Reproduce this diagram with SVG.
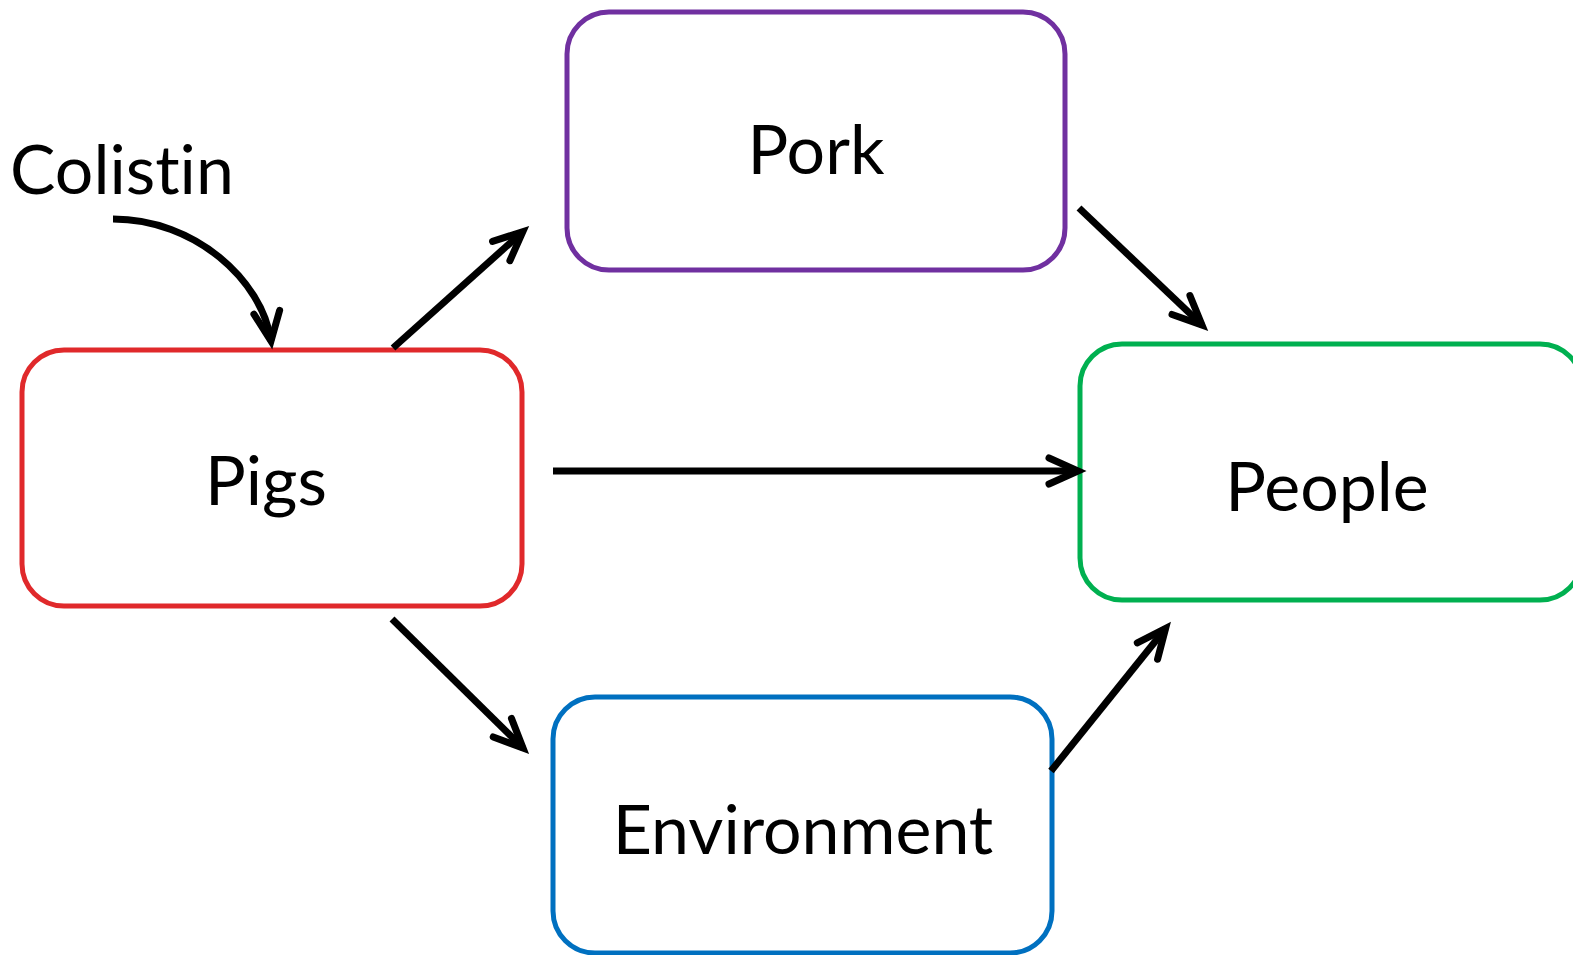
<svg xmlns="http://www.w3.org/2000/svg" width="1573" height="955" viewBox="0 0 1573 955">
<style>
.box{fill:#fff;stroke-width:5}
.lbl{font-family:Lato,"Open Sans","Liberation Sans",sans-serif;font-size:68px;fill:#000;text-anchor:middle;font-variant-ligatures:none;font-feature-settings:"liga" 0}
.con{fill:none;stroke:#000;stroke-width:7;stroke-linecap:butt;marker-end:url(#ah)}
</style>
<defs>
<marker id="ah" markerUnits="userSpaceOnUse" markerWidth="60" markerHeight="60" viewBox="-40 -30 60 60" refX="0" refY="0" orient="auto" overflow="visible">
<path d="M-29,-13 L0,0 L-29,13" fill="none" stroke="#000" stroke-width="7" stroke-linecap="round" stroke-linejoin="miter"/>
</marker>
</defs>
<rect width="1573" height="955" fill="#fff"/>
<g id="pork">
<rect class="box" x="567" y="12" width="498" height="258" rx="42" stroke="#7030A0"/>
<text class="lbl" x="816" y="174">Pork</text>
</g>
<g id="pigs">
<rect class="box" x="22" y="350" width="500" height="256" rx="42" stroke="#E0292B"/>
<text class="lbl" x="266" y="505">Pigs</text>
</g>
<g id="people">
<rect class="box" x="1080" y="344" width="502" height="256" rx="42" stroke="#00B050"/>
<text class="lbl" x="1327" y="511">People</text>
</g>
<g id="environment">
<rect class="box" x="553" y="697" width="499" height="256" rx="42" stroke="#0070C0"/>
<text class="lbl" x="803" y="854">Environment</text>
</g>
<g id="colistin">
<text class="lbl" x="122" y="194">Colistin</text>
</g>
<g id="connectors">
<path class="con" d="M113,219 C195,219 262,280 271,341"/>
<path class="con" d="M393,348 L522.8,231.7"/>
<path class="con" d="M1079,208 L1202,325"/>
<path class="con" d="M553,471 L1078,471"/>
<path class="con" d="M392,619 L523,748"/>
<path class="con" d="M1051,771 L1165.6,628.5"/>
</g>
</svg>
